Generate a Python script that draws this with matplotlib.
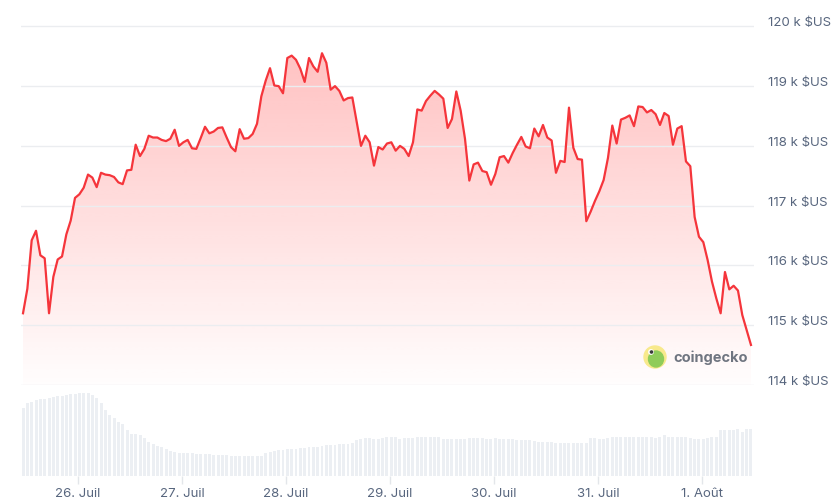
import matplotlib.pyplot as plt
import matplotlib.dates as mdates
from matplotlib.transforms import ScaledTranslation, IdentityTransform
from matplotlib.patches import Circle, Ellipse
import numpy as np
import pandas as pd

plt.rcParams['font.family'] = ['Inter', 'DejaVu Sans']

# hourly BTC price ($US)
start = '2025-07-25 11:20'
prices = [
    115200, 115610, 116420, 116580, 116170, 116120, 115200, 115810, 116100, 116150,
    116520, 116750, 117130, 117190, 117300, 117520, 117470, 117310, 117550, 117520,
    117510, 117480, 117390, 117360, 117590, 117600, 118020, 117830, 117950, 118170,
    118140, 118140, 118100, 118080, 118120, 118270, 118000, 118060, 118100, 117960,
    117950, 118130, 118320, 118210, 118240, 118300, 118310, 118140, 117980, 117910,
    118280, 118120, 118130, 118200, 118370, 118830, 119090, 119300, 119010, 119000,
    118880, 119470, 119510, 119440, 119290, 119070, 119470, 119330, 119240, 119550,
    119390, 118940, 119000, 118920, 118760, 118800, 118810, 118410, 118000, 118170,
    118060, 117670, 117980, 117940, 118040, 118060, 117920, 118000, 117950, 117830,
    118060, 118610, 118590, 118750, 118840, 118920, 118860, 118790, 118300, 118450,
    118910, 118590, 118120, 117420, 117690, 117720, 117580, 117560, 117350, 117530,
    117810, 117830, 117720, 117880, 118020, 118150, 117990, 117960, 118290, 118160,
    118350, 118140, 118090, 117550, 117750, 117730, 118640, 117970, 117780, 117770,
    116740, 116900, 117080, 117240, 117430, 117800, 118340, 118040, 118440, 118470,
    118510, 118330, 118660, 118650, 118560, 118600, 118530, 118350, 118550, 118500,
    118020, 118290, 118330, 117740, 117660, 116810, 116480, 116390, 116090, 115730,
    115450, 115200, 115890, 115600, 115660, 115580, 115170, 114920, 114670,
]

# 24h volume (relative units), one bar per hour
volumes = [
    203, 218, 223, 227, 230, 232, 233, 238, 240, 241, 243, 245, 247, 248, 248, 248,
    243, 233, 218, 197, 183, 173, 163, 155, 137, 127, 125, 122, 113, 103, 95,
    90, 88, 80, 75, 72, 70, 68, 68, 68, 66,
    65, 65, 65, 63, 62, 62, 62, 60, 60, 59, 59, 59, 59, 60, 61,
    68, 72, 76, 77, 78, 80, 82, 82, 83, 84, 86,
    86, 88, 90, 92, 93, 94, 95, 95, 96, 100, 107,
    112, 115, 115, 110, 110, 113, 116, 118, 118, 110, 115, 115, 115, 118,
    116, 117, 118, 118, 117, 110, 110, 110, 110, 110, 110,
    115, 115, 113, 113, 112, 112, 114,
    112, 112, 110, 110, 108, 108, 107, 107, 105,
    103, 103, 102, 102, 98, 98, 98,
    98, 98, 98, 98, 98, 115,
    115, 112, 110, 115,
    118, 118, 118, 118, 118, 118, 118, 117, 118, 118,
    115, 118, 122,
    118, 118, 118, 118, 118, 115, 110, 112,
    112, 115, 118, 118,
    137, 137, 137, 137, 140,
    132, 142, 140,
]

price_ticks = [114000, 115000, 116000, 117000, 118000, 119000, 120000]
price_labels = ['114 k $US', '115 k $US', '116 k $US', '117 k $US',
                '118 k $US', '119 k $US', '120 k $US']
day_ticks = ['2025-07-26', '2025-07-27', '2025-07-28', '2025-07-29',
             '2025-07-30', '2025-07-31', '2025-08-01']
day_labels = ['26. Juil', '27. Juil', '28. Juil', '29. Juil',
              '30. Juil', '31. Juil', '1. Août']

times = pd.date_range(start, periods=len(prices), freq='h')
x0 = mdates.date2num(times[0] - pd.Timedelta(minutes=28))
x1 = mdates.date2num(times[-1] + pd.Timedelta(minutes=42))
ytop = 120290
text_col = '#58667e'
grid_col = '#ebedf0'

fig = plt.figure(figsize=(8.37, 5.02), dpi=100)
ax = fig.add_axes([21 / 837, 1 - 386.3 / 502, 733 / 837, 376.3 / 502])
vax = fig.add_axes([21 / 837, 1 - 477 / 502, 733 / 837, 85 / 502], sharex=ax)

# price line + gradient fill
fill = ax.fill_between(times, prices, 114000, color='none', lw=0)
grad = np.zeros((256, 1, 4))
grad[..., 0] = 1.0
grad[..., 1] = 0.2
grad[..., 2] = 0.2
grad[..., 3] = np.linspace(0.34, 0.01, 256)[:, None]
im = ax.imshow(grad, aspect='auto', extent=[x0, x1, 114000, ytop],
               origin='upper', zorder=1, interpolation='bilinear')
im.set_clip_path(fill.get_paths()[0], transform=ax.transData)
ax.plot(times, prices, color='#f5353b', lw=1.6, zorder=3,
        solid_joinstyle='round')

ax.set_xlim(x0, x1)
ax.set_ylim(113995, ytop)
ax.set_yticks(price_ticks, price_labels)
ax.yaxis.tick_right()
ax.grid(axis='y', color=grid_col, lw=1, zorder=0)
ax.tick_params(axis='y', length=0, pad=10, labelsize=9.5, labelcolor=text_col)
ax.tick_params(axis='x', bottom=False, labelbottom=False)
shift = ScaledTranslation(0, 5.5 / 100, fig.dpi_scale_trans)
for lbl in ax.get_yticklabels():
    lbl.set_transform(lbl.get_transform() + shift)
for s in ax.spines.values():
    s.set_visible(False)

# volume bars
vax.bar(times, volumes, width=3 / 104.2, color='#eceff3', lw=0)
vax.set_ylim(0, 255)
vax.set_yticks([])
vax.set_xticks(pd.to_datetime(day_ticks), day_labels)
vax.tick_params(axis='x', length=6, width=1, color='#e3e6ea', pad=2,
                labelsize=9.5, labelcolor=text_col)
for s in vax.spines.values():
    s.set_visible(False)

# coingecko watermark
px = IdentityTransform()
fig.add_artist(Circle((655, 502 - 358), 11, transform=px, color='#f8e98c', zorder=5))
fig.add_artist(Ellipse((656, 502 - 360), 15, 16, transform=px, color='#8fcc5a', zorder=6))
fig.add_artist(Circle((651, 502 - 353), 2.2, transform=px, color='white', zorder=7))
fig.add_artist(Circle((651.5, 502 - 353), 1.1, transform=px, color='#3a3a3a', zorder=8))
fig.text(673 / 837, 1 - 358 / 502, 'coingecko', fontsize=10.5, fontweight='bold',
         color='#6f7580', va='center', ha='left')

fig.savefig('out.png', dpi=100)
